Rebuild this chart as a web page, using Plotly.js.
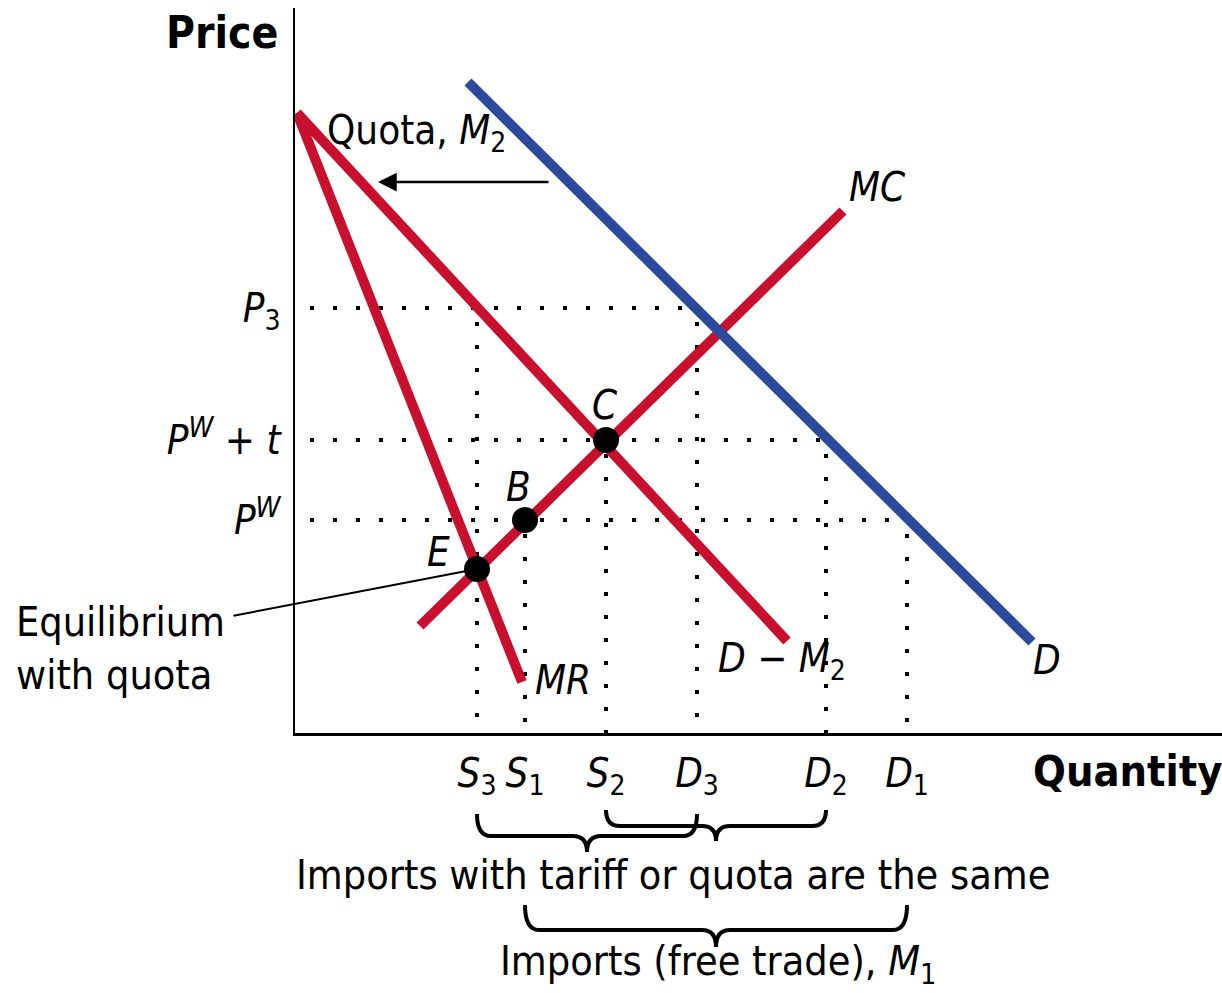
<!DOCTYPE html>
<html>
<head>
<meta charset="utf-8">
<script src="https://cdn.plot.ly/plotly-3.0.1.min.js"></script>
<style>html,body{margin:0;padding:0;background:#fff;}#chart{width:1222px;height:993px;}</style>
</head>
<body>
<div id="chart"></div>
<script>
// ---- Diagram values (arbitrary units) ----
const quantityNames = ['S3', 'S1', 'S2', 'D3', 'D2', 'D1'];
const quantityValues = [182, 230, 311, 402, 531, 612];
const quantityText = ['<i>S</i><sub>3</sub>', '<i>S</i><sub>1</sub>', '<i>S</i><sub>2</sub>',
                      '<i>D</i><sub>3</sub>', '<i>D</i><sub>2</sub>', '<i>D</i><sub>1</sub>'];
const priceNames = ['PW', 'PWt', 'P3'];
const priceValues = [213, 293, 425];
const priceText = ['<i>P</i><sup><i>W</i></sup>', '<i>P</i><sup><i>W</i></sup> + <i>t</i>', '<i>P</i><sub>3</sub>'];

// curves (quantity, price) endpoints
const demandQ = [173, 737];   const demandP = [651, 91];
const dMinusM2Q = [2, 492];   const dMinusM2P = [620, 92];
const mrQ = [2, 227];         const mrP = [620, 51];
const mcQ = [125, 548];       const mcP = [107, 522];

// equilibrium points
const pointNames = ['E', 'B', 'C'];
const pointQ = [182, 230, 311];
const pointP = [164, 213, 293];

// ---- helpers ----
const Q = n => quantityValues[quantityNames.indexOf(n)];
const P = n => priceValues[priceNames.indexOf(n)];
const FONT = '"DejaVu Sans Condensed", "Liberation Sans Narrow", "DejaVu Sans", sans-serif';
const RED = '#C8102E', BLUE = '#2C4A9C';
const PLOT = {l: 295, t: 8, w: 927, h: 725};
const px2paperX = px => (px - PLOT.l) / PLOT.w;
const px2paperY = py => (PLOT.t + PLOT.h - py) / PLOT.h;

const dotLine = {color: 'black', width: 4, dash: '4px,19px'};
const traces = [];
// horizontal dotted guides
const hGuides = [['P3', 'D3'], ['PWt', 'D2'], ['PW', 'D1']];
hGuides.forEach(([p, q]) => traces.push({x: [15, Q(q)], y: [P(p), P(p)], mode: 'lines', line: dotLine, hoverinfo: 'skip'}));
// vertical dotted guides
const vGuides = [['S3', 'P3'], ['S1', 'PW'], ['S2', 'PWt'], ['D3', 'P3'], ['D2', 'PWt'], ['D1', 'PW']];
vGuides.forEach(([q, p]) => traces.push({x: [Q(q), Q(q)], y: [P(p) - 14, 0], mode: 'lines', line: dotLine, hoverinfo: 'skip'}));

traces.push({x: mrQ, y: mrP, mode: 'lines', line: {color: RED, width: 10}, name: 'MR'});
traces.push({x: dMinusM2Q, y: dMinusM2P, mode: 'lines', line: {color: RED, width: 10}, name: 'D - M2'});
traces.push({x: mcQ, y: mcP, mode: 'lines', line: {color: RED, width: 10}, name: 'MC'});
traces.push({x: demandQ, y: demandP, mode: 'lines', line: {color: BLUE, width: 10}, name: 'D'});
traces.push({x: pointQ, y: pointP, text: pointNames, mode: 'markers', marker: {color: 'black', size: 26}, cliponaxis: false, name: 'points'});

// braces (x in data, y in paper)
function brace(x1, x2, yTopPx, yBarPx, yTipPx) {
  const xm = (x1 + x2) / 2, r = 14;
  const yt = px2paperY(yTopPx), yb = px2paperY(yBarPx), yp = px2paperY(yTipPx);
  return {type: 'path', xref: 'x', yref: 'paper', line: {color: 'black', width: 4},
    path: `M ${x1},${yt} Q ${x1},${yb} ${x1 + r},${yb} L ${xm - r},${yb} Q ${xm},${yb} ${xm},${yp} ` +
          `Q ${xm},${yb} ${xm + r},${yb} L ${x2 - r},${yb} Q ${x2},${yb} ${x2},${yt}`};
}
const shapes = [
  brace(Q('S3'), Q('D3'), 814, 836, 852),
  brace(Q('S2'), Q('D2'), 810, 826, 841),
  brace(Q('S1'), Q('D1'), 905, 930, 947)
];

const txt = (size, extra) => Object.assign({family: FONT, size: size, color: 'black'}, extra || {});
const paperNote = (xpx, ypx, text, size, extra) => Object.assign({xref: 'paper', yref: 'paper',
  x: px2paperX(xpx), y: px2paperY(ypx), text: text, showarrow: false, xanchor: 'center', yanchor: 'middle', font: txt(size)}, extra || {});
const annotations = [
  paperNote(222, 32, '<b>Price</b>', 44),
  paperNote(1128, 771, '<b>Quantity</b>', 43),
  paperNote(14, 648, 'Equilibrium<br>with quota', 41, {xanchor: 'left', align: 'left'}),
  paperNote(673, 875, 'Imports with tariff or quota are the same', 41),
  paperNote(718, 964, 'Imports (free trade), <i>M</i><sub>1</sub>', 41),
  {x: 30, y: 600, text: 'Quota, <i>M</i><sub>2</sub>', xanchor: 'left', yanchor: 'middle', showarrow: false, font: txt(40)},
  {x: 582, y: 546, text: '<i>MC</i>', xanchor: 'center', yanchor: 'middle', showarrow: false, font: txt(40)},
  {x: 310, y: 328, text: '<i>C</i>', xanchor: 'center', yanchor: 'middle', showarrow: false, font: txt(40)},
  {x: 223, y: 246, text: '<i>B</i>', xanchor: 'center', yanchor: 'middle', showarrow: false, font: txt(40)},
  {x: 143, y: 181, text: '<i>E</i>', xanchor: 'center', yanchor: 'middle', showarrow: false, font: txt(40)},
  {x: 238, y: 53, text: '<i>MR</i>', xanchor: 'left', yanchor: 'middle', showarrow: false, font: txt(40)},
  {x: 421, y: 72, text: '<i>D</i> − <i>M</i><sub>2</sub>', xanchor: 'left', yanchor: 'middle', showarrow: false, font: txt(40)},
  {x: 752, y: 73, text: '<i>D</i>', xanchor: 'center', yanchor: 'middle', showarrow: false, font: txt(40)},
  // shift arrow
  {x: 83, y: 551, ax: 172, ay: 0, text: '', showarrow: true, arrowhead: 2, arrowsize: 1.5, arrowwidth: 2.5, arrowcolor: 'black'},
  // leader line to E
  {x: pointQ[0], y: pointP[0], ax: -245, ay: 47, text: '', showarrow: true, arrowhead: 0, arrowwidth: 2, arrowcolor: 'black', standoff: 0}
];

const axisCommon = {showline: true, linecolor: 'black', linewidth: 2.5, showgrid: false, zeroline: false,
  ticks: '', fixedrange: true, tickfont: txt(40)};

const layout = {
  width: 1222, height: 993,
  margin: {l: PLOT.l, r: 1222 - PLOT.l - PLOT.w, t: PLOT.t, b: 993 - PLOT.t - PLOT.h},
  paper_bgcolor: 'white', plot_bgcolor: 'white',
  showlegend: false,
  xaxis: Object.assign({}, axisCommon, {range: [0, PLOT.w], tickvals: quantityValues, ticktext: quantityText, ticklabelstandoff: 3}),
  yaxis: Object.assign({}, axisCommon, {range: [0, PLOT.h], tickvals: priceValues, ticktext: priceText, ticklabelstandoff: 4}),
  shapes: shapes,
  annotations: annotations
};

Plotly.newPlot('chart', traces, layout, {staticPlot: true, displayModeBar: false});
</script>
</body>
</html>
